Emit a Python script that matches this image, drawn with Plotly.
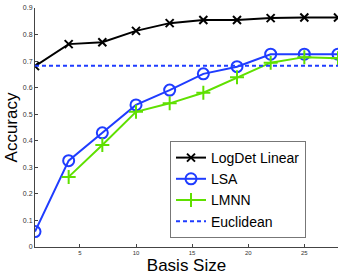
import plotly.graph_objects as go

basis = [1, 4, 7, 10, 13, 16, 19, 22, 25, 28]
logdet = [0.681, 0.764, 0.771, 0.814, 0.843, 0.855, 0.855, 0.862, 0.864, 0.864]
lsa = [0.058, 0.325, 0.430, 0.535, 0.591, 0.652, 0.679, 0.726, 0.726, 0.726]
lmnn_x = [4, 7, 10, 13, 16, 19, 22, 25, 28]
lmnn = [0.264, 0.384, 0.509, 0.541, 0.581, 0.639, 0.694, 0.715, 0.711]
euclid_x = [1, 28]
euclid = [0.683, 0.683]

fig = go.Figure()
fig.add_trace(go.Scatter(x=basis, y=logdet, name="LogDet Linear", mode="lines+markers",
                         line=dict(color="black", width=2),
                         marker=dict(symbol="x-thin", size=8, line=dict(color="black", width=2))))
fig.add_trace(go.Scatter(x=basis, y=lsa, name="LSA", mode="lines+markers",
                         line=dict(color="#1f3cff", width=2),
                         marker=dict(symbol="circle-open", size=11, line=dict(color="#1f3cff", width=2))))
fig.add_trace(go.Scatter(x=lmnn_x, y=lmnn, name="LMNN", mode="lines+markers",
                         line=dict(color="#5fe000", width=2),
                         marker=dict(symbol="cross-thin", size=10, line=dict(color="#5fe000", width=2))))
fig.add_trace(go.Scatter(x=euclid_x, y=euclid, name="Euclidean", mode="lines",
                         line=dict(color="#1f3cff", width=2, dash="4px,3px")))

fig.update_layout(
    width=346, height=276,
    margin=dict(l=35, r=8, t=8, b=29),
    paper_bgcolor="white", plot_bgcolor="white",
    font=dict(family="Liberation Sans, Arial, sans-serif", color="black"),
    showlegend=True,
    legend=dict(x=(170 - 35) / 303, y=(247 - 141) / 239, xanchor="left", yanchor="top",
                bgcolor="white", bordercolor="#777777", borderwidth=1,
                font=dict(size=14, family="Liberation Sans, Arial, sans-serif"),
                tracegroupgap=0, itemwidth=30),
)
fig.update_xaxes(range=[1, 28], tickvals=[5, 10, 15, 20, 25], ticks="inside", ticklen=3,
                 tickcolor="#444", showline=True, linecolor="#444", linewidth=1,
                 showgrid=False, zeroline=False, tickfont=dict(size=6, color="#333"),
                 automargin=False,
                 title=dict(text="Basis Size", font=dict(size=17), standoff=0))
fig.update_yaxes(range=[0, 0.9], tickvals=[0, 0.1, 0.2, 0.3, 0.4, 0.5, 0.6, 0.7, 0.8, 0.9],
                 ticktext=["0", "0.1", "0.2", "0.3", "0.4", "0.5", "0.6", "0.7", "0.8", "0.9"],
                 ticks="inside", ticklen=3, tickcolor="#444", showline=True, linecolor="#444",
                 linewidth=1, showgrid=False, zeroline=False, tickfont=dict(size=7, color="#333"),
                 automargin=False,
                 title=dict(text="Accuracy", font=dict(size=17), standoff=0))

fig.write_html("out.html", config={"displayModeBar": False},
               post_script="document.body.style.margin='0';")
